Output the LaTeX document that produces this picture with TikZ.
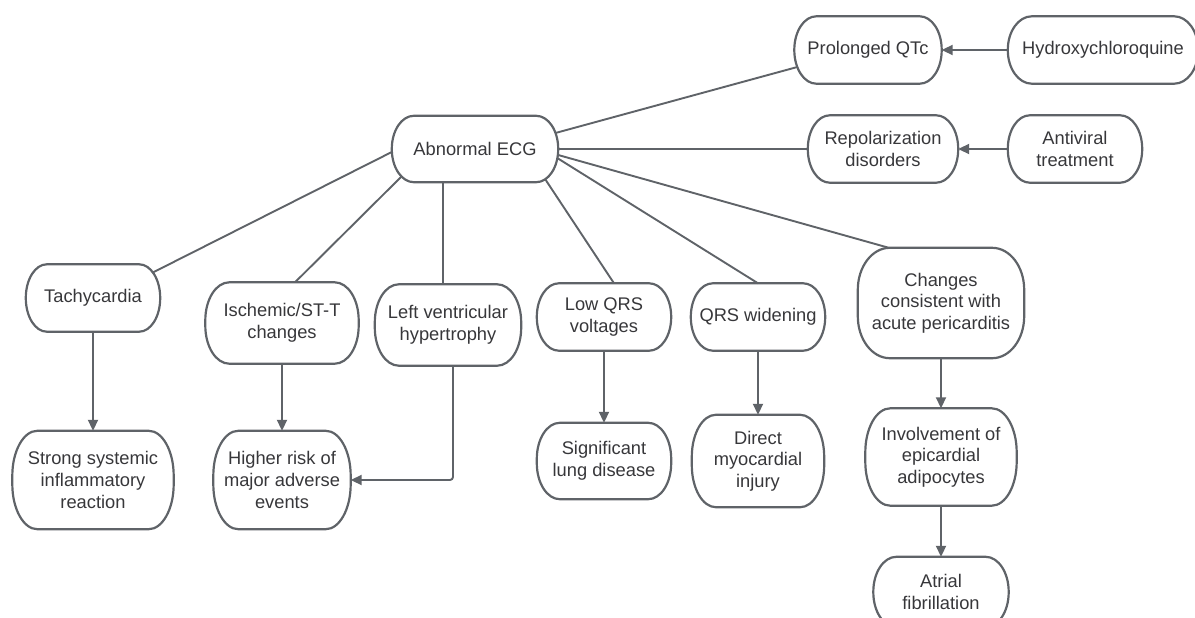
\documentclass[tikz,border=0pt]{standalone}
\usepackage{fontspec}
\setmainfont{Liberation Sans}
\usetikzlibrary{calc,arrows.meta}
\definecolor{lineC}{RGB}{95,99,104}
\definecolor{textC}{RGB}{55,55,58}
\begin{document}
\begin{tikzpicture}[x=1pt,y=-1pt,
  box/.style={draw=none, inner sep=0pt, align=center, text=textC,
    font=\fontsize{18.3}{21.7}\selectfont},
  outline/.style={draw=lineC, line width=2.2pt, line join=round},
  conn/.style={draw=lineC, line width=1.9pt},
  arr/.style={conn, -{Triangle[length=11pt,width=10pt]}}]
\useasboundingbox (0,0) rectangle (1195,618);
% nodes
\node[box, minimum width=166pt, minimum height=66pt] (abn) at (475,149) {Abnormal ECG};
\node[box, minimum width=147pt, minimum height=67pt] (qtc) at (868,50) {Prolonged QTc};
\node[box, minimum width=190pt, minimum height=67pt] (hcq) at (1103,50) {Hydroxychloroquine};
\node[box, minimum width=150pt, minimum height=67pt] (rep) at (883,149) {Repolarization\\disorders};
\node[box, minimum width=134pt, minimum height=67pt] (anti) at (1075,149) {Antiviral\\treatment};
\node[box, minimum width=134pt, minimum height=67pt] (tachy) at (93,298) {Tachycardia};
\node[box, minimum width=153pt, minimum height=81pt] (isch) at (282,323) {Ischemic/ST-T\\changes};
\node[box, minimum width=146pt, minimum height=81pt] (lvh) at (448,325) {Left ventricular\\hypertrophy};
\node[box, minimum width=134pt, minimum height=67pt] (lowqrs) at (604,317) {Low QRS\\voltages};
\node[box, minimum width=134pt, minimum height=67pt] (qrsw) at (758,317) {QRS widening};
\node[box, minimum width=166pt, minimum height=110pt] (chg) at (941,303) {Changes\\consistent with\\acute pericarditis};
\node[box, minimum width=161pt, minimum height=98pt] (strong) at (93,480) {Strong systemic\\inflammatory\\reaction};
\node[box, minimum width=137pt, minimum height=98pt] (higher) at (282,480) {Higher risk of\\major adverse\\events};
\node[box, minimum width=134pt, minimum height=76pt] (sig) at (604,461) {Significant\\lung disease};
\node[box, minimum width=132pt, minimum height=92pt] (direct) at (758,461) {Direct\\myocardial\\injury};
\node[box, minimum width=151pt, minimum height=97pt] (inv) at (941,457) {Involvement of\\epicardial\\adipocytes};
\node[box, minimum width=135pt, minimum height=70pt] (atrial) at (941,592) {Atrial\\fibrillation};
% box outlines with elliptical corners
\foreach \nm/\rx/\ry in {abn/22/33, qtc/22/33.5, hcq/24/33.5, rep/22/33.5, anti/22/33.5,
    tachy/21/33.5, isch/24/38, lvh/24/38, lowqrs/22/33.5, qrsw/22/33.5, chg/32/42,
    strong/25/45, higher/25/45, sig/23/36, direct/24/42, inv/25/44, atrial/23/35} {
  \draw[outline] let \p1=(\nm.south west), \p2=(\nm.north east) in
    ({\x1+\rx pt},\y2) -- ({\x2-\rx pt},\y2)
    .. controls ({\x2-0.448*\rx pt},\y2) and (\x2,{\y2-0.448*\ry pt}) .. (\x2,{\y2-\ry pt})
    -- (\x2,{\y1+\ry pt})
    .. controls (\x2,{\y1+0.448*\ry pt}) and ({\x2-0.448*\rx pt},\y1) .. ({\x2-\rx pt},\y1)
    -- ({\x1+\rx pt},\y1)
    .. controls ({\x1+0.448*\rx pt},\y1) and (\x1,{\y1+0.448*\ry pt}) .. (\x1,{\y1+\ry pt})
    -- (\x1,{\y2-\ry pt})
    .. controls (\x1,{\y2-0.448*\ry pt}) and ({\x1+0.448*\rx pt},\y2) .. ({\x1+\rx pt},\y2)
    -- cycle;
}
% undirected connectors from Abnormal ECG
\draw[conn] ($(abn.west)+(0,3)$) -- ($(tachy.north east)+(-7,8)$);
\draw[conn] ($(abn.south west)+(10,-6)$) -- ($(isch.north)+(13,0)$);
\draw[conn] ($(abn.south)+(-32,0)$) -- ($(lvh.north)+(-5,0)$);
\draw[conn] ($(abn.south east)+(-13,-3)$) -- ($(lowqrs.north)+(10,0)$);
\draw[conn] ($(abn.east)+(-1,9)$) -- (qrsw.north);
\draw[conn] ($(abn.east)+(0,6)$) -- ($(chg.north west)+(31,0)$);
\draw[conn] (abn.east) -- (rep.west);
\draw[conn] ($(abn.north east)+(-2,17)$) -- ($(qtc.west)+(3,17)$);
% arrows
\draw[arr] (hcq.west) -- (qtc.east);
\draw[arr] (anti.west) -- (rep.east);
\draw[arr] (tachy.south) -- (strong.north);
\draw[arr] (isch.south) -- (higher.north);
\draw[arr, rounded corners=3pt] ($(lvh.south)+(5,0)$) |- (higher.east);
\draw[arr] (lowqrs.south) -- (sig.north);
\draw[arr] (qrsw.south) -- (direct.north);
\draw[arr] (chg.south) -- (inv.north);
\draw[arr] (inv.south) -- (atrial.north);
\end{tikzpicture}
\end{document}
